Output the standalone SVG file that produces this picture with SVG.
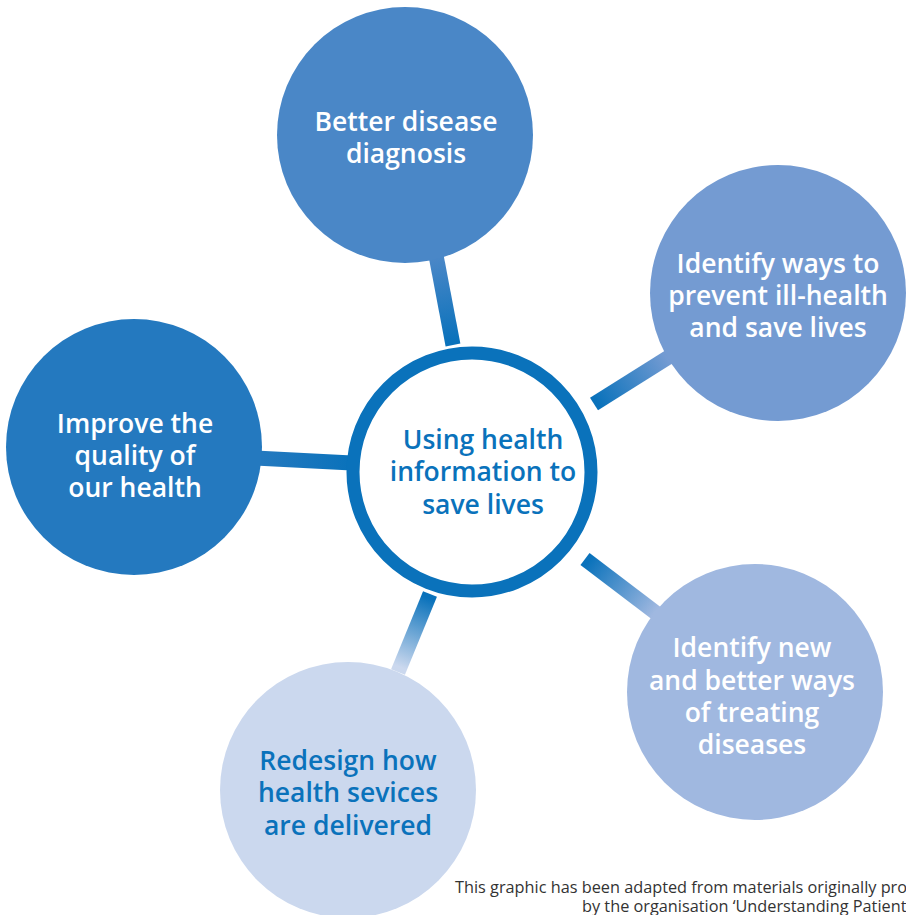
<svg xmlns="http://www.w3.org/2000/svg" width="906" height="915" viewBox="0 0 906 915">
<defs>
<linearGradient id="gTop" gradientUnits="userSpaceOnUse" x1="435" y1="258" x2="452" y2="342"><stop offset="0" stop-color="#4a87c7"/><stop offset="1" stop-color="#0a72bb"/></linearGradient>
<linearGradient id="gRT" gradientUnits="userSpaceOnUse" x1="597" y1="402" x2="667" y2="358"><stop offset="0" stop-color="#0a72bb"/><stop offset="1" stop-color="#749bd2"/></linearGradient>
<linearGradient id="gRB" gradientUnits="userSpaceOnUse" x1="588" y1="562" x2="655" y2="612"><stop offset="0" stop-color="#0a72bb"/><stop offset="1" stop-color="#a0b8e0"/></linearGradient>
<linearGradient id="gB" gradientUnits="userSpaceOnUse" x1="428" y1="598" x2="400" y2="667"><stop offset="0" stop-color="#0a72bb"/><stop offset="1" stop-color="#cbd8ee"/></linearGradient>
<linearGradient id="gL" gradientUnits="userSpaceOnUse" x1="260" y1="458" x2="350" y2="463"><stop offset="0" stop-color="#2479bf"/><stop offset="1" stop-color="#0a72bb"/></linearGradient>
</defs>
<style>
.lbl{font-family:"Open Sans","Noto Sans",sans-serif;font-weight:600;font-size:26.5px;text-anchor:middle}
.w{fill:#ffffff}
.b{fill:#0a72bb}
.conn{fill:none;stroke-width:15}
.foot{font-family:"Open Sans","Noto Sans",sans-serif;font-size:16.3px;fill:#333333}
</style>
<g id="connectors">
<line class="conn" x1="435" y1="250" x2="453" y2="345" stroke="url(#gTop)"/>
<line class="conn" x1="594" y1="404" x2="672" y2="355" stroke="url(#gRT)"/>
<line class="conn" x1="585" y1="559" x2="660" y2="616" stroke="url(#gRB)"/>
<line class="conn" x1="430" y1="594" x2="398" y2="672" stroke="url(#gB)"/>
<line class="conn" x1="255" y1="458" x2="352" y2="463" stroke="url(#gL)"/>
</g>
<g id="node-top">
<circle cx="405" cy="135" r="128" fill="#4a87c7"/>
<text class="lbl w" x="406" y="131">Better disease</text>
<text class="lbl w" x="406" y="163">diagnosis</text>
</g>
<g id="node-right-top">
<circle cx="778" cy="293" r="128" fill="#749bd2"/>
<text class="lbl w" x="778" y="273">Identify ways to</text>
<text class="lbl w" x="778" y="305">prevent ill-health</text>
<text class="lbl w" x="778" y="337">and save lives</text>
</g>
<g id="node-left">
<circle cx="134" cy="447" r="128" fill="#2479bf"/>
<text class="lbl w" x="135" y="433">Improve the</text>
<text class="lbl w" x="135" y="465">quality of</text>
<text class="lbl w" x="135" y="497">our health</text>
</g>
<g id="node-right-bottom">
<circle cx="755" cy="692" r="128" fill="#a0b8e0"/>
<text class="lbl w" x="752" y="657">Identify new</text>
<text class="lbl w" x="752" y="690">and better ways</text>
<text class="lbl w" x="752" y="722">of treating</text>
<text class="lbl w" x="752" y="754">diseases</text>
</g>
<g id="node-bottom">
<circle cx="348" cy="790" r="128" fill="#cbd8ee"/>
<text class="lbl b" x="348" y="770">Redesign how</text>
<text class="lbl b" x="348" y="802">health sevices</text>
<text class="lbl b" x="348" y="835">are delivered</text>
</g>
<g id="node-center">
<circle cx="472" cy="472" r="119" fill="#ffffff" stroke="#0a72bb" stroke-width="13"/>
<text class="lbl b" x="483" y="449">Using health</text>
<text class="lbl b" x="483" y="481">information to</text>
<text class="lbl b" x="483" y="514">save lives</text>
</g>
<g id="footer">
<text class="foot" x="455" y="893">This graphic has been adapted from materials originally pro</text>
<text class="foot" x="582" y="912">by the organisation ‘Understanding Patient</text>
</g>
</svg>
